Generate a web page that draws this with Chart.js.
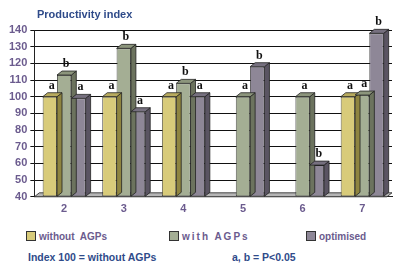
<!DOCTYPE html>
<html>
<head>
<meta charset="utf-8">
<script src="https://cdn.jsdelivr.net/npm/chart.js@4"></script>
<style>
  body { margin: 0; background: #fff; font-family: "Liberation Sans", Arial, sans-serif; }
  #wrap { position: relative; width: 394px; height: 266px; }
  #chart { position: absolute; left: 0; top: 0; }
  .txt { position: absolute; font-weight: bold; white-space: pre; }
  .title { left: 37px; top: 8px; font-size: 11px; color: #2f4b8a; }
  .leg { top: 231px; font-size: 10px; color: #6b5b8e; }
  .leg i { display: inline-block; width: 8px; height: 8px; border: 1px solid #333; margin-right: 3px; vertical-align: -1px; }
  .note { top: 251px; font-size: 10.5px; color: #2f4b8a; }
</style>
</head>
<body>
<div id="wrap">
  <canvas id="chart" width="394" height="222"></canvas>
  <div class="txt title">Productivity index</div>
  <div class="txt leg" style="left:26px"><i style="background:#d8cb7a"></i>without  AGPs</div>
  <div class="txt leg" style="left:169px;letter-spacing:2px"><i style="background:#a4ae94"></i>with AGPs</div>
  <div class="txt leg" style="left:306px"><i style="background:#8e8797"></i>optimised</div>
  <div class="txt note" style="left:28px">Index 100 = without AGPs</div>
  <div class="txt note" style="left:232px">a, b = P&lt;0.05</div>
</div>
<script>
//data
var categories = ["2", "3", "4", "5", "6", "7"];
var withoutAGPs = [100, 100, 100, null, null, 100];
var withAGPs = [113, 129, 108, 100, 100, 101];
var optimised = [99, 91, 100, 118, 59, 138];
var withoutLetters = ["a", "a", "a", "", "", "a"];
var withLetters = ["b", "b", "b", "a", "a", "a"];
var optimisedLetters = ["a", "a", "a", "b", "b", "b"];
var yTicks = [40, 50, 60, 70, 80, 90, 100, 110, 120, 130, 140];

var fills = ["#d8cb7a", "#a4ae94", "#8e8797"];
var sides = ["#8f8540", "#6c735e", "#5a5462"];
var tops = ["#b8ab5e", "#8c957c", "#76707f"];
var letters = [withoutLetters, withLetters, optimisedLetters];

//3d faces + letters over the bars
var bar3d = {
  id: "bar3d",
  beforeDatasetsDraw: function (chart) {
    //grey floor
    var ctx = chart.ctx, a = chart.chartArea;
    ctx.save();
    ctx.fillStyle = "#b5b5b5";
    ctx.strokeStyle = "#222";
    ctx.lineWidth = 0.8;
    ctx.beginPath();
    ctx.moveTo(a.left, a.bottom); ctx.lineTo(a.left + 5, a.bottom - 4);
    ctx.lineTo(a.right, a.bottom - 4); ctx.lineTo(a.right - 5, a.bottom);
    ctx.closePath(); ctx.fill(); ctx.stroke();
    ctx.restore();
  },
  afterDatasetsDraw: function (chart) {
    var ctx = chart.ctx;
    var dx = 5, dy = -4;
    ctx.save();
    chart.data.datasets.forEach(function (ds, di) {
      var meta = chart.getDatasetMeta(di);
      meta.data.forEach(function (bar, i) {
        if (ds.data[i] == null) return;
        var l = bar.x - bar.width / 2, r = bar.x + bar.width / 2;
        var t = bar.y, b = bar.base;
        ctx.strokeStyle = "#222";
        ctx.lineWidth = 0.8;
        //side
        ctx.fillStyle = sides[di];
        ctx.beginPath();
        ctx.moveTo(r, t); ctx.lineTo(r + dx, t + dy); ctx.lineTo(r + dx, b + dy); ctx.lineTo(r, b);
        ctx.closePath(); ctx.fill(); ctx.stroke();
        //top
        ctx.fillStyle = tops[di];
        ctx.beginPath();
        ctx.moveTo(l, t); ctx.lineTo(l + dx, t + dy); ctx.lineTo(r + dx, t + dy); ctx.lineTo(r, t);
        ctx.closePath(); ctx.fill(); ctx.stroke();
        //letter
        var txt = letters[di][i];
        if (txt) {
          ctx.fillStyle = "#111";
          ctx.font = "bold 12px 'Liberation Serif', serif";
          ctx.textAlign = "center";
          ctx.textBaseline = "bottom";
          ctx.fillText(txt, bar.x + 2, t + dy - 1);
        }
      });
    });
    ctx.restore();
  }
};

var myChart = new Chart(document.getElementById("chart"), {
  type: "bar",
  data: {
    labels: categories,
    datasets: [
      { label: "without  AGPs", data: withoutAGPs, backgroundColor: fills[0] },
      { label: "with AGPs", data: withAGPs, backgroundColor: fills[1] },
      { label: "optimised", data: optimised, backgroundColor: fills[2] }
    ]
  },
  options: {
    responsive: false,
    animation: false,
    events: [],
    layout: { padding: { left: 6, right: 2, top: 30, bottom: 0 } },
    datasets: {
      bar: { base: 40, categoryPercentage: 0.72, barPercentage: 1.0, borderColor: "#222", borderWidth: 0.8, borderSkipped: false }
    },
    plugins: { legend: { display: false }, tooltip: { enabled: false } },
    scales: {
      x: {
        grid: { display: false, drawTicks: false },
        border: { color: "#222" },
        ticks: { color: "#6b5b8e", font: { size: 11, weight: "bold", family: "Liberation Sans" }, padding: 6 }
      },
      y: {
        min: yTicks[0],
        max: yTicks[yTicks.length - 1],
        afterBuildTicks: function (axis) { axis.ticks = yTicks.map(function (v) { return { value: v }; }); },
        grid: { color: "#111", lineWidth: 1, tickLength: 4 },
        border: { color: "#222" },
        ticks: { color: "#6b5b8e", font: { size: 11, weight: "bold", family: "Liberation Sans" }, padding: 3 }
      }
    }
  },
  plugins: [bar3d]
});
</script>
</body>
</html>
